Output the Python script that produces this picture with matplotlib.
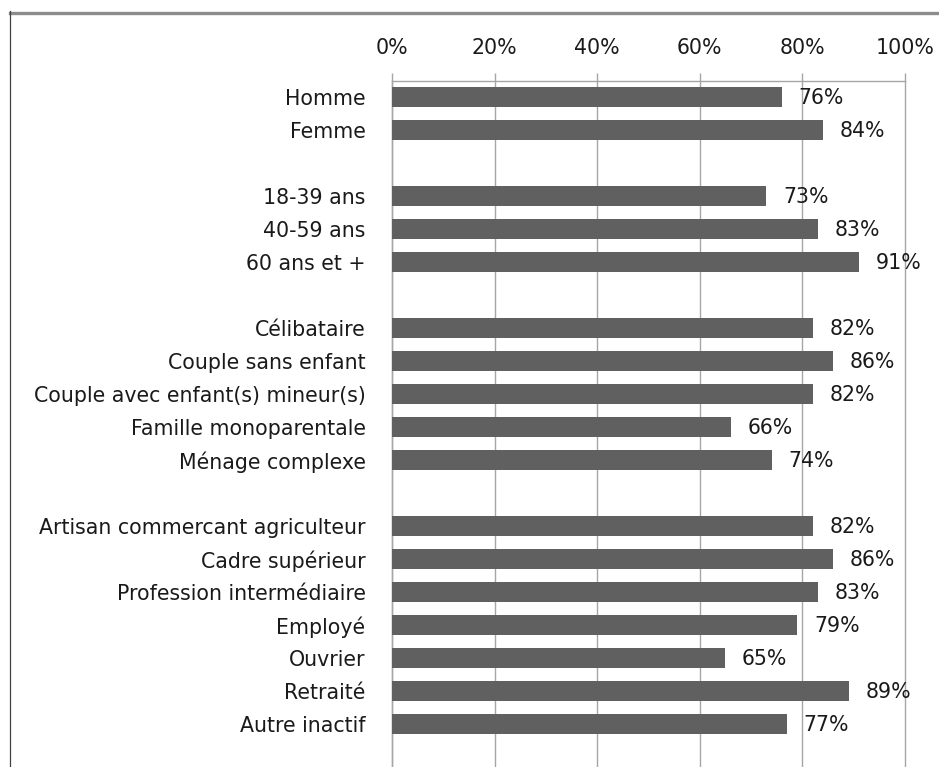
import numpy as np
import matplotlib.pyplot as plt
from matplotlib.lines import Line2D
from matplotlib.ticker import PercentFormatter

# ── Data ────────────────────────────────────────────────────────────────────
# None marks an empty spacer row between groups
categories = [
    "Homme", "Femme", None,
    "18-39 ans", "40-59 ans", "60 ans et +", None,
    "Célibataire", "Couple sans enfant", "Couple avec enfant(s) mineur(s)",
    "Famille monoparentale", "Ménage complexe", None,
    "Artisan commercant agriculteur", "Cadre supérieur",
    "Profession intermédiaire", "Employé", "Ouvrier", "Retraité",
    "Autre inactif",
]
values = [76, 84, None, 73, 83, 91, None, 82, 86, 82, 66, 74, None,
          82, 86, 83, 79, 65, 89, 77]
x_ticks = [0, 20, 40, 60, 80, 100]

BAR = '#606060'
GRID = '#a6a6a6'
TXT = '#1a1a1a'
FS = 14.8

plt.rcParams['font.family'] = ['DejaVu Sans']

fig = plt.figure(figsize=(9.39, 7.67), dpi=100)
ax = fig.add_axes([392 / 939, 0.0, (905 - 392) / 939, 1 - 80.5 / 767])

rows = [i for i, v in enumerate(values) if v is not None]
vals = [values[i] for i in rows]
ax.barh(rows, vals, height=0.6, color=BAR, zorder=3)

for r, v in zip(rows, vals):
    ax.annotate(f'{v}%', xy=(v, r), xytext=(12, -1), textcoords='offset points',
                va='center', ha='left', fontsize=FS, color=TXT, zorder=4)

n_rows = len(categories)
ax.set_ylim((767 - 80.5) / 33 - 0.5, -0.5)
ax.set_xlim(0, 100)
ax.set_yticks(range(n_rows))
ax.set_yticklabels([c if c else '' for c in categories], fontsize=FS, color=TXT)
ax.tick_params(axis='y', length=0, pad=19)

ax.xaxis.tick_top()
ax.set_xticks(x_ticks)
ax.xaxis.set_major_formatter(PercentFormatter(decimals=0))
ax.tick_params(axis='x', length=6, width=1, color=GRID, pad=10,
               labelsize=FS, labelcolor=TXT)
ax.grid(axis='x', color=GRID, lw=1, zorder=0)
for gl in ax.get_xgridlines():
    gl.set_clip_on(False)

for side in ['right', 'bottom']:
    ax.spines[side].set_visible(False)
for side in ['top', 'left']:
    ax.spines[side].set_color(GRID)
    ax.spines[side].set_linewidth(1)

# outer frame of the chart (top + left edge)
fig.add_artist(Line2D([10 / 939, 1], [1 - 12.5 / 767] * 2, color='#8c8c8c', lw=2.4))
fig.add_artist(Line2D([10 / 939] * 2, [0, 1 - 11 / 767], color='#404040', lw=0.9))

fig.savefig('out.png', dpi=100)
